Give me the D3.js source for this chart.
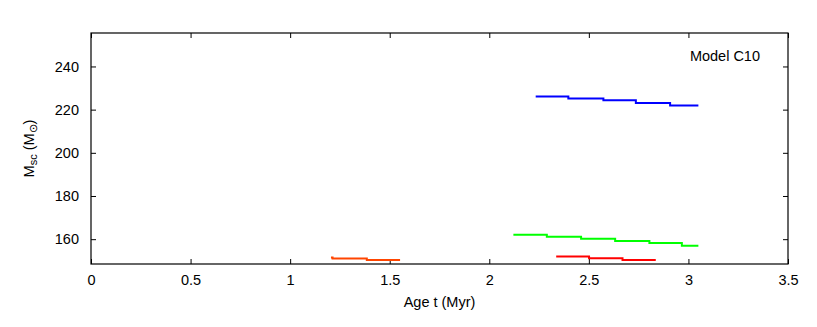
<!DOCTYPE html>
<html>
<head>
<meta charset="utf-8">
<script src="https://cdn.jsdelivr.net/npm/d3@7"></script>
<style>
  body { margin: 0; background: #fff; }
  text { font-family: "Liberation Sans", Arial, sans-serif; fill: #000; }
</style>
</head>
<body>
<svg id="chart" width="817" height="327"></svg>
<script>
// step series: times are step starts plus final end, masses per step
const blueT = [2.233, 2.397, 2.573, 2.736, 2.908, 3.050];
const blueM = [226.1, 225.2, 224.3, 223.1, 221.9];
const greenT = [2.121, 2.289, 2.461, 2.632, 2.804, 2.967, 3.050];
const greenM = [162.0, 161.1, 160.2, 159.2, 158.2, 157.0];
const redT = [2.336, 2.501, 2.669, 2.836];
const redM = [152.0, 151.2, 150.3];
const orangeT = [1.205, 1.213, 1.385, 1.552];
const orangeM = [151.5, 151.0, 150.3];

const xTicks = [0, 0.5, 1, 1.5, 2, 2.5, 3, 3.5];
const yTicks = [160, 180, 200, 220, 240];

const series = [
  { t: orangeT, m: orangeM, color: "#ff4500" },
  { t: redT, m: redM, color: "#ff0000" },
  { t: greenT, m: greenM, color: "#00ff00" },
  { t: blueT, m: blueM, color: "#0000ff" }
];

const margin = { top: 33, right: 29, bottom: 63, left: 91 };
const width = 817 - margin.left - margin.right;
const height = 327 - margin.top - margin.bottom;
const fs = "14.5px";

const svg = d3.select("#chart")
  .append("g")
  .attr("transform", `translate(${margin.left},${margin.top})`);

const x = d3.scaleLinear().domain([0, 3.5]).range([0, width]);
const y = d3.scaleLinear().domain([148.5, 255.5]).range([height, 0]);

const tickLen = 5;

function styleAxis(g) {
  g.select(".domain").remove();
  g.selectAll(".tick line").attr("stroke", "#000").attr("stroke-width", 1);
  g.selectAll(".tick text").style("font-size", fs).style("font-family", "Liberation Sans, Arial, sans-serif");
}

// bottom axis (ticks inward)
svg.append("g")
  .attr("transform", `translate(0,${height})`)
  .call(d3.axisBottom(x).tickValues(xTicks).tickFormat(d3.format("")).tickSizeInner(-tickLen).tickPadding(11))
  .call(styleAxis);

// top mirror ticks
svg.append("g")
  .call(d3.axisTop(x).tickValues(xTicks).tickFormat("").tickSizeInner(-tickLen))
  .call(styleAxis);

// left axis
svg.append("g")
  .call(d3.axisLeft(y).tickValues(yTicks).tickFormat(d3.format("")).tickSizeInner(-tickLen).tickPadding(12))
  .call(styleAxis);

// right mirror ticks
svg.append("g")
  .attr("transform", `translate(${width},0)`)
  .call(d3.axisRight(y).tickValues(yTicks).tickFormat("").tickSizeInner(-tickLen))
  .call(styleAxis);

// frame
svg.append("rect")
  .attr("width", width)
  .attr("height", height)
  .attr("fill", "none")
  .attr("stroke", "#000")
  .attr("stroke-width", 1.2);

const line = d3.line()
  .x(d => x(d[0]))
  .y(d => y(d[1]))
  .curve(d3.curveStepAfter);

series.forEach(s => {
  const pts = s.t.map((t, i) => [t, s.m[Math.min(i, s.m.length - 1)]]);
  svg.append("path")
    .datum(pts)
    .attr("d", line)
    .attr("fill", "none")
    .attr("stroke", s.color)
    .attr("stroke-width", 2);
});

// labels
svg.append("text")
  .attr("x", width / 2)
  .attr("y", height + 43)
  .attr("text-anchor", "middle")
  .style("font-size", fs)
  .text("Age t (Myr)");

const yl = svg.append("text")
  .attr("transform", `translate(-57,${height / 2}) rotate(-90)`)
  .attr("text-anchor", "middle")
  .style("font-size", fs);
yl.append("tspan").text("M");
yl.append("tspan").attr("dy", 3).style("font-size", "11px").text("sc");
yl.append("tspan").attr("dy", -3).text(" (M");
yl.append("tspan").attr("dy", 3).style("font-size", "11px").text("\u2299");
yl.append("tspan").attr("dy", -3).text(")");

svg.append("text")
  .attr("x", width - 28)
  .attr("y", 28)
  .attr("text-anchor", "end")
  .style("font-size", fs)
  .text("Model C10");
</script>
</body>
</html>
